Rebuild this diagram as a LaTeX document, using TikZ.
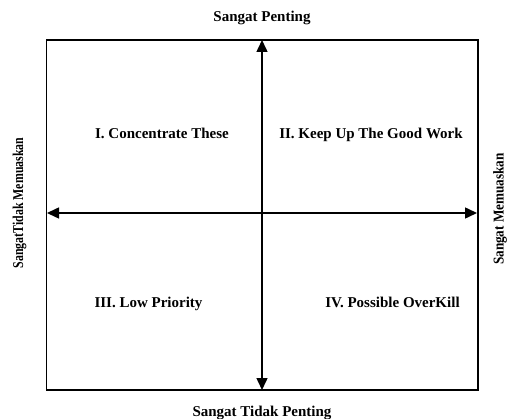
\documentclass[tikz,border=0pt]{standalone}
\usepackage{fontspec}
\setmainfont{Liberation Serif}
\usetikzlibrary{arrows.meta}
\begin{document}
\begin{tikzpicture}[x=1pt,y=-1pt,
  lbl/.style={font=\bfseries\fontsize{15}{18}\selectfont, inner sep=0pt, anchor=base},
  side/.style={font=\bfseries\fontsize{15}{18}\selectfont, inner sep=0pt, rotate=90},
  axis/.style={line width=1.5pt, {Triangle[length=12pt,width=11pt]}-{Triangle[length=12pt,width=11pt]}}]
\useasboundingbox (0,0) rectangle (508,419);
\draw[line width=1.5pt] (46.5,40) rectangle (478,390);
\coordinate (T) at (262,40);
\coordinate (B) at (262,390);
\coordinate (L) at (47,213);
\coordinate (R) at (477,213);
\draw[axis] (B) -- (T);
\draw[axis] (L) -- (R);
\node[lbl] (top) at (262,22) {Sangat Penting};
\node[lbl] (bot) at (262,416) {Sangat Tidak Penting};
\node[lbl] (q1) at (162,139) {I. Concentrate These};
\node[lbl] (q2) at (371,139) {II. Keep Up The Good Work};
\node[lbl] (q3) at (148.5,308) {III. Low Priority};
\node[lbl] (q4) at (392.5,308) {IV. Possible OverKill};
\node[side, xscale=0.79] (left) at (19.5,203) {SangatTidak Memuaskan};
\node[side, xscale=0.88] (right) at (500,209) {Sangat Memuaskan};
\end{tikzpicture}
\end{document}
